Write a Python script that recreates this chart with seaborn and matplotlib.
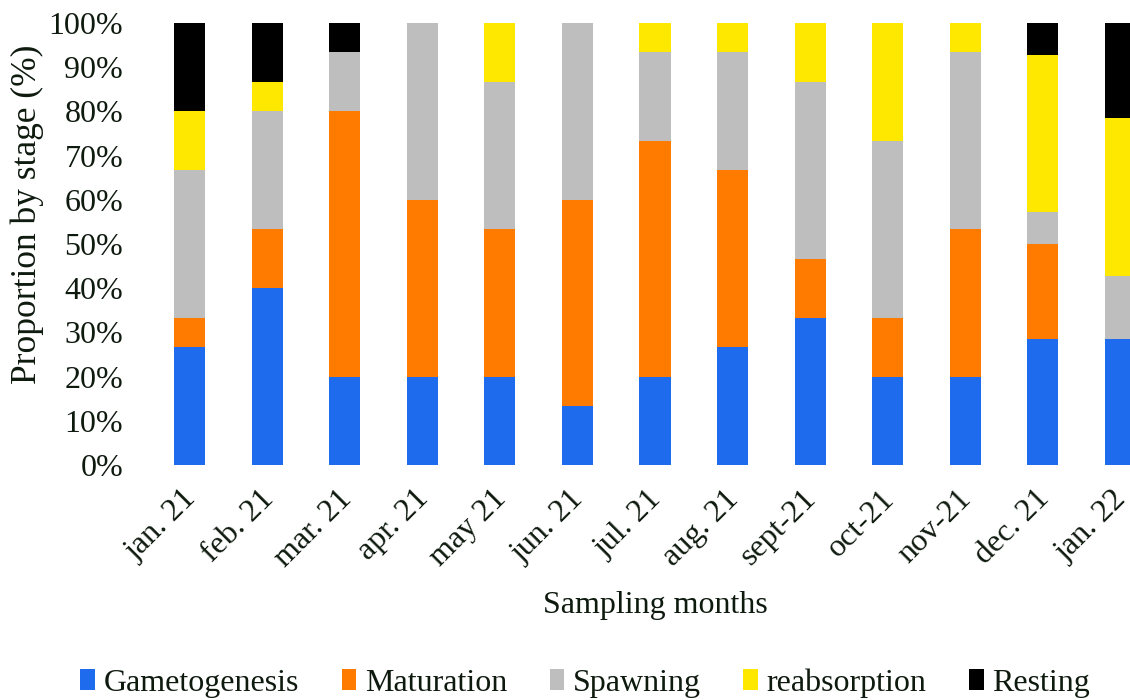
import numpy as np
import pandas as pd
import matplotlib
matplotlib.use("Agg")
import matplotlib.pyplot as plt
import matplotlib.transforms as mtransforms
import seaborn as sns

# Sampling months (x categories)
months = ["jan. 21", "feb. 21", "mar. 21", "apr. 21", "may 21", "jun. 21", "jul. 21",
          "aug. 21", "sept-21", "oct-21", "nov-21", "dec. 21", "jan. 22"]

# Proportion of each gonad stage per month (%)
gametogenesis = [26.67, 40.00, 20.00, 20.00, 20.00, 13.33, 20.00, 26.67, 33.33, 20.00, 20.00, 28.57, 28.57]
maturation    = [6.67, 13.33, 60.00, 40.00, 33.33, 46.67, 53.33, 40.00, 13.33, 13.33, 33.33, 21.43, 0.00]
spawning      = [33.33, 26.67, 13.33, 40.00, 33.33, 40.00, 20.00, 26.67, 40.00, 40.00, 40.00, 7.14, 14.29]
reabsorption  = [13.33, 6.67, 0.00, 0.00, 13.33, 0.00, 6.67, 6.67, 13.33, 26.67, 6.67, 35.71, 35.71]
resting       = [20.00, 13.33, 6.67, 0.00, 0.00, 0.00, 0.00, 0.00, 0.00, 0.00, 0.00, 7.14, 21.43]

stages = ["Gametogenesis", "Maturation", "Spawning", "reabsorption", "Resting"]
stage_values = [gametogenesis, maturation, spawning, reabsorption, resting]
colors = ["#1F6BEE", "#FF7B00", "#BEBEBE", "#FFE800", "#000000"]

sns.set_style("white")
plt.rcParams["font.family"] = ["Liberation Serif", "DejaVu Serif"]
text_color = "#0F1A0F"

fig = plt.figure(figsize=(11.3, 7), dpi=100)
# plot area runs off the right edge, as in the original
ax = fig.add_axes([151 / 1130, 1 - 465 / 700, 1008 / 1130, 442 / 700])

bottom = np.zeros(len(months))
for stage, vals, col in zip(stages, stage_values, colors):
    df = pd.DataFrame({"month": months, "value": vals})
    sns.barplot(data=df, x="month", y="value", color=col, width=0.4,
                bottom=bottom, ax=ax, label=stage, errorbar=None,
                saturation=1, edgecolor="none", linewidth=0)
    bottom = bottom + np.array(vals)

ax.set_ylim(0, 100)
ax.set_xlim(-0.5, len(months) - 0.5)
ax.set_yticks(np.arange(0, 101, 10))
ax.set_yticklabels([f"{t}%" for t in range(0, 101, 10)], fontsize=23, color=text_color)
ax.set_xticks(range(len(months)))
ax.set_xticklabels(months, rotation=45, ha="right", rotation_mode="anchor",
                   fontsize=23, color=text_color)
ax.tick_params(axis="both", length=0)
ax.tick_params(axis="y", pad=20)
ax.tick_params(axis="x", pad=14)
# nudge month labels a bit to the left, closer to the bar centres
shift = mtransforms.ScaledTranslation(-8 / 100, 0, fig.dpi_scale_trans)
for lbl in ax.get_xticklabels():
    lbl.set_transform(lbl.get_transform() + shift)
ax.set_xlabel("Sampling months", fontsize=23, color=text_color, labelpad=13)
ax.set_ylabel("Proportion by stage (%)", fontsize=25.5, color=text_color)
ax.yaxis.set_label_coords(-0.106, 0.568)
for s in ax.spines.values():
    s.set_visible(False)

handles, labels = ax.get_legend_handles_labels()
if ax.get_legend() is not None:
    ax.get_legend().remove()
fig.legend(handles, labels, loc="center", bbox_to_anchor=(0.518, 1 - 683 / 700),
           ncol=5, frameon=False, fontsize=23, handlelength=0.45, handleheight=0.6,
           handletextpad=0.28, columnspacing=1.33, labelcolor=text_color)

fig.savefig("out.png", dpi=100)
